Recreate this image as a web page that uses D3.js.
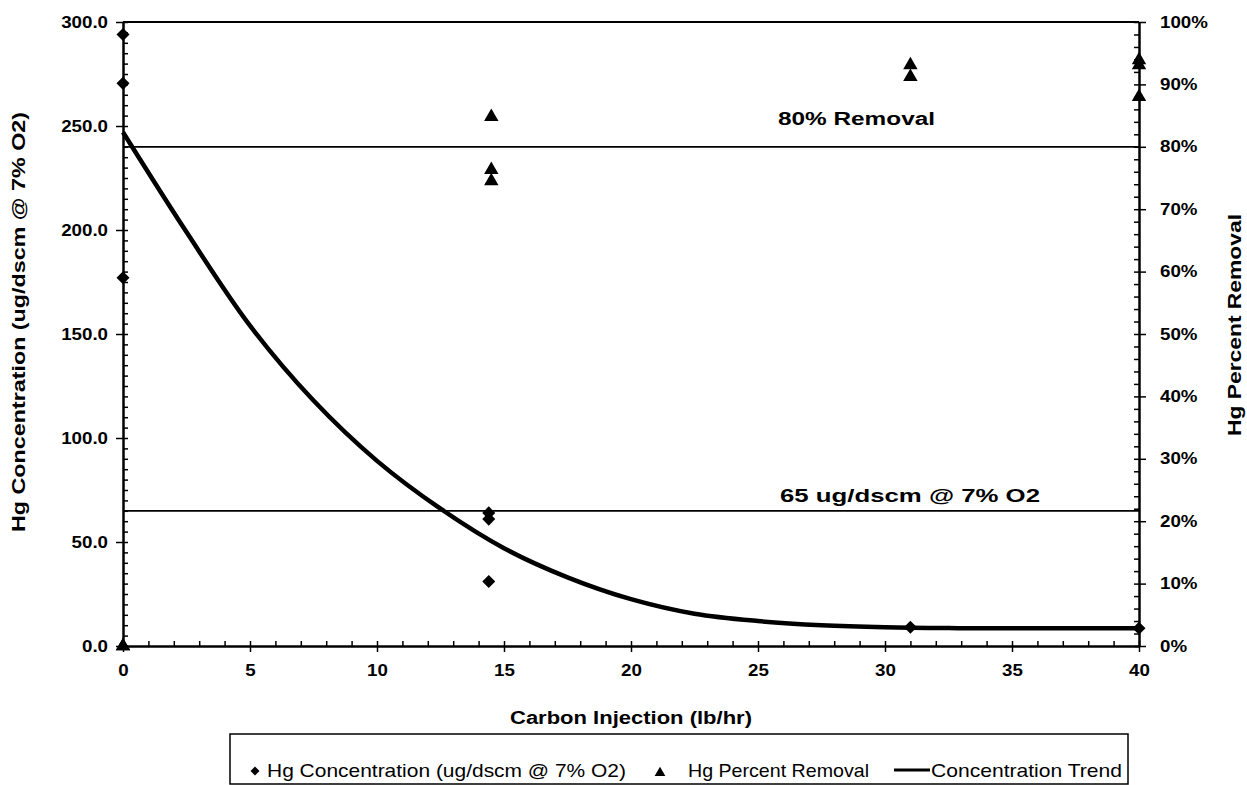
<!DOCTYPE html>
<html>
<head>
<meta charset="utf-8">
<script src="https://cdn.jsdelivr.net/npm/d3@7"></script>
<style>
    body { margin: 0; background: #fff; }
    svg { display: block; }
    text { fill: #000; }
</style>
</head>
<body>
<div id="chart"></div>
<script>
// Hg concentration points (ug/dscm @ 7% O2)
const concX = [0, 0, 0, 14.4, 14.4, 14.4, 31, 40];
const concY = [294, 270.5, 177, 64, 61, 31, 9, 8.5];

// Hg percent removal points (%)
const removalX = [0, 0, 14.5, 14.5, 14.5, 31, 31, 40, 40, 40];
const removalY = [0, 0, 84.8, 76.3, 74.5, 93.1, 91.2, 93.9, 93.1, 88.0];

// concentration trend
const trendX = [0, 2.5, 5, 7.5, 10, 12.5, 15, 17.5, 20, 22.5, 25, 27.5, 30, 32.5, 35, 37.5, 40];
const trendY = [247, 199, 154, 118, 89, 66, 47, 33, 22.5, 15.5, 12, 10, 9, 8.6, 8.5, 8.5, 8.5];

// reference lines
const removalTarget = 80;
const concLimit = 65;

const xTicks = [0, 5, 10, 15, 20, 25, 30, 35, 40];
const leftTicks = [0, 50, 100, 150, 200, 250, 300];
const rightTicks = [0, 10, 20, 30, 40, 50, 60, 70, 80, 90, 100];

const legendLabels = ['Hg Concentration (ug/dscm @ 7% O2)', 'Hg Percent Removal', 'Concentration Trend'];

const W = 1247, H = 785;
const margin = { top: 22, right: 108, bottom: 139, left: 123 };
const width = W - margin.left - margin.right;
const height = H - margin.top - margin.bottom;

const font = '"Liberation Sans", Arial, sans-serif';

// the scanned chart is a little wider than the font, so stretch text to fit
function stretchTo(sel, len) {
    sel.attr('textLength', len).attr('lengthAdjust', 'spacingAndGlyphs');
}
function stretchBy(sel, factor) {
    sel.each(function () {
        const w = this.getComputedTextLength();
        d3.select(this).attr('textLength', w * factor).attr('lengthAdjust', 'spacingAndGlyphs');
    });
}

const svg = d3.select('#chart').append('svg')
    .attr('width', W)
    .attr('height', H);

const g = svg.append('g')
    .attr('transform', `translate(${margin.left},${margin.top})`);

const x = d3.scaleLinear().domain([0, 40]).range([0, width]);
const yL = d3.scaleLinear().domain([0, 300]).range([height, 0]);
const yR = d3.scaleLinear().domain([0, 100]).range([height, 0]);

// minor ticks, pointing inwards
g.append('g')
    .attr('transform', `translate(0,${height})`)
    .call(d3.axisBottom(x).tickValues(d3.range(0, 41, 1)).tickSize(-5).tickFormat(''))
    .call(a => a.select('.domain').remove())
    .selectAll('line').attr('stroke-width', 1.5);
g.append('g')
    .call(d3.axisLeft(yL).tickValues(d3.range(0, 301, 5)).tickSize(-5).tickFormat(''))
    .call(a => a.select('.domain').remove())
    .selectAll('line').attr('stroke-width', 1.5);
g.append('g')
    .attr('transform', `translate(${width},0)`)
    .call(d3.axisRight(yR).tickValues(d3.range(0, 101, 2)).tickSize(-5).tickFormat(''))
    .call(a => a.select('.domain').remove())
    .selectAll('line').attr('stroke-width', 1.5);

// main axes
const xAxis = g.append('g')
    .attr('transform', `translate(0,${height})`)
    .call(d3.axisBottom(x).tickValues(xTicks).tickSize(6).tickSizeOuter(0).tickPadding(13));
const yAxisL = g.append('g')
    .call(d3.axisLeft(yL).tickValues(leftTicks).tickSize(7).tickSizeOuter(0).tickPadding(8).tickFormat(d3.format('.1f')));
const yAxisR = g.append('g')
    .attr('transform', `translate(${width},0)`)
    .call(d3.axisRight(yR).tickValues(rightTicks).tickSize(7).tickSizeOuter(0).tickPadding(14).tickFormat(d => d + '%'));

[xAxis, yAxisL, yAxisR].forEach(a => {
    a.select('.domain').attr('stroke-width', 2.5);
    a.selectAll('line').attr('stroke-width', 1.5);
    a.selectAll('text')
        .style('font-family', font)
        .style('font-weight', 'bold')
        .style('font-size', '16px')
        .call(stretchBy, 1.17);
});

// top frame line
g.append('line')
    .attr('x1', 0).attr('x2', width)
    .attr('y1', 0).attr('y2', 0)
    .attr('stroke', '#000').attr('stroke-width', 1.8);

// reference lines
g.append('line')
    .attr('x1', 0).attr('x2', width)
    .attr('y1', yR(removalTarget)).attr('y2', yR(removalTarget))
    .attr('stroke', '#000').attr('stroke-width', 1.8);
g.append('line')
    .attr('x1', 0).attr('x2', width)
    .attr('y1', yL(concLimit)).attr('y2', yL(concLimit))
    .attr('stroke', '#000').attr('stroke-width', 1.8);

g.append('text')
    .attr('x', 778 - margin.left).attr('y', yR(removalTarget) - 22)
    .style('font-family', font).style('font-weight', 'bold').style('font-size', '18px')
    .text('80% Removal')
    .call(stretchTo, 157);
g.append('text')
    .attr('x', 780 - margin.left).attr('y', yL(concLimit) - 9)
    .style('font-family', font).style('font-weight', 'bold').style('font-size', '18px')
    .text('65 ug/dscm @ 7% O2')
    .call(stretchTo, 260);

// trend curve
const line = d3.line()
    .x(d => x(d[0]))
    .y(d => yL(d[1]))
    .curve(d3.curveCatmullRom.alpha(0.5));
g.append('path')
    .datum(trendX.map((v, i) => [v, trendY[i]]))
    .attr('d', line)
    .attr('fill', 'none')
    .attr('stroke', '#000')
    .attr('stroke-width', 4.5);

const diamond = d3.symbol().type(d3.symbolSquare).size(85);
const triangle = d3.symbol().type(d3.symbolTriangle).size(90);

g.selectAll('.conc')
    .data(concX.map((v, i) => [v, concY[i]]))
    .enter().append('path')
    .attr('class', 'conc')
    .attr('d', diamond)
    .attr('transform', d => `translate(${x(d[0])},${yL(d[1])}) rotate(45)`)
    .attr('fill', '#000');

g.selectAll('.removal')
    .data(removalX.map((v, i) => [v, removalY[i]]))
    .enter().append('path')
    .attr('class', 'removal')
    .attr('d', triangle)
    .attr('transform', d => `translate(${x(d[0])},${yR(d[1])})`)
    .attr('fill', '#000');

// axis titles
svg.append('text')
    .attr('x', margin.left + width / 2)
    .attr('y', 724)
    .attr('text-anchor', 'middle')
    .style('font-family', font).style('font-weight', 'bold').style('font-size', '18px')
    .text('Carbon Injection (lb/hr)')
    .call(stretchTo, 242);
svg.append('text')
    .attr('transform', 'translate(25,322) rotate(-90)')
    .attr('text-anchor', 'middle')
    .style('font-family', font).style('font-weight', 'bold').style('font-size', '18px')
    .text('Hg Concentration (ug/dscm @ 7% O2)')
    .call(stretchTo, 420);
svg.append('text')
    .attr('transform', 'translate(1241,325) rotate(-90)')
    .attr('text-anchor', 'middle')
    .style('font-family', font).style('font-weight', 'bold').style('font-size', '18px')
    .text('Hg Percent Removal')
    .call(stretchTo, 222);

// legend
const legend = svg.append('g').attr('transform', 'translate(230,734)');
legend.append('rect')
    .attr('x', 0).attr('y', 0)
    .attr('width', 898).attr('height', 50)
    .attr('fill', 'none').attr('stroke', '#000').attr('stroke-width', 1.5);

legend.append('path').attr('d', d3.symbol().type(d3.symbolSquare).size(40))
    .attr('transform', 'translate(25,37) rotate(45)');
legend.append('text').attr('x', 37).attr('y', 43)
    .style('font-family', font).style('font-size', '19px')
    .text(legendLabels[0])
    .call(stretchTo, 359);
legend.append('path').attr('d', d3.symbol().type(d3.symbolTriangle).size(50))
    .attr('transform', 'translate(430,39)');
legend.append('text').attr('x', 458).attr('y', 43)
    .style('font-family', font).style('font-size', '19px')
    .text(legendLabels[1])
    .call(stretchTo, 181);
legend.append('line')
    .attr('x1', 664).attr('x2', 700).attr('y1', 36).attr('y2', 36)
    .attr('stroke', '#000').attr('stroke-width', 3);
legend.append('text').attr('x', 701).attr('y', 43)
    .style('font-family', font).style('font-size', '19px')
    .text(legendLabels[2])
    .call(stretchTo, 191);
</script>
</body>
</html>
